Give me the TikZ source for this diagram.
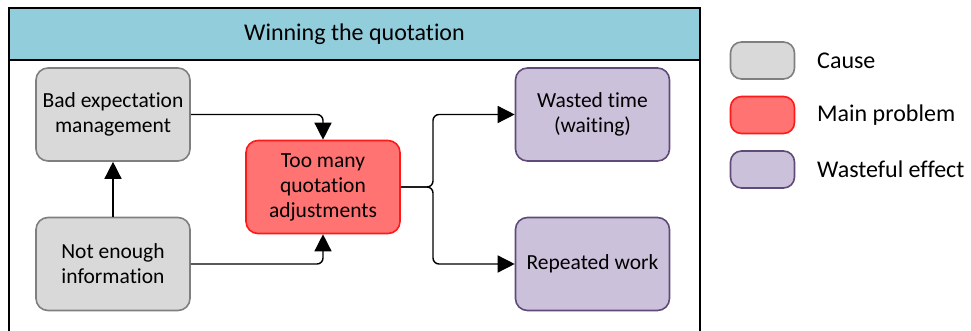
\documentclass[tikz,border=0pt]{standalone}
\usepackage{fontspec}
\setmainfont[Ligatures=CommonOff]{Carlito}
\usetikzlibrary{arrows.meta}

\definecolor{headfill}{HTML}{92CDDC}
\definecolor{causefill}{HTML}{D9D9D9}
\definecolor{causeline}{HTML}{7F7F7F}
\definecolor{mainfill}{HTML}{FF7373}
\definecolor{mainline}{HTML}{FF1A1A}
\definecolor{wastefill}{HTML}{CCC1DA}
\definecolor{wasteline}{HTML}{5F4B7A}

\tikzset{
  box/.style={rounded corners=12pt, line width=1.6pt, minimum width=154pt,
    minimum height=93pt, align=center, font=\fontsize{21.5}{25}\selectfont,
    inner sep=0pt},
  causebox/.style={box, fill=causefill, draw=causeline},
  mainbox/.style={box, fill=mainfill, draw=mainline},
  wastebox/.style={box, fill=wastefill, draw=wasteline},
  keybox/.style={rounded corners=11pt, line width=1.6pt, minimum width=64pt,
    minimum height=37pt, inner sep=0pt},
  keytext/.style={anchor=west, font=\fontsize{24}{28}\selectfont, inner sep=0pt},
  link/.style={line width=1.4pt, rounded corners=6pt,
    -{Triangle[length=17pt,width=17pt]}},
}

\begin{document}
\begin{tikzpicture}[x=1pt,y=-1pt]
\useasboundingbox (0,0) rectangle (971,331);

% swimlane frame with title band
\fill[headfill] (9,8) rectangle (700,60);
\draw[line width=2pt] (9,331) -- (9,8) -- (700,8) -- (700,331);
\draw[line width=2pt] (9,60) -- (700,60);
\node[font=\fontsize{24}{28}\selectfont] (title) at (354.5,34) {Winning the quotation};

% causes, main problem, effects
\node[causebox] (bad) at (113,114.5) {Bad expectation\\management};
\node[causebox] (info) at (113,264) {Not enough\\information};
\node[mainbox] (main) at (323,187) {Too many\\quotation\\adjustments};
\node[wastebox] (wait) at (592.5,114.5) {Wasted time\\(waiting)};
\node[wastebox] (redo) at (592.5,264) {Repeated work};

% connectors
\draw[link] (info.north) -- (bad.south);
\draw[link] (bad.east) -| (main.north);
\draw[link] (info.east) -| (main.south);
\coordinate (split) at (433,187);
\draw[link] (main.east) -- (split) |- (wait.west);
\draw[link] (main.east) -- (split) |- (redo.west);

% legend
\node[keybox, fill=causefill, draw=causeline] (k1) at (762.5,60.5) {};
\node[keybox, fill=mainfill, draw=mainline] (k2) at (762.5,115) {};
\node[keybox, fill=wastefill, draw=wasteline] (k3) at (762.5,169.5) {};
\node[keytext] (t1) at (817,60.5) {Cause};
\node[keytext] (t2) at (817,115) {Main problem};
\node[keytext] (t3) at (817,169.5) {Wasteful effect};
\end{tikzpicture}
\end{document}
